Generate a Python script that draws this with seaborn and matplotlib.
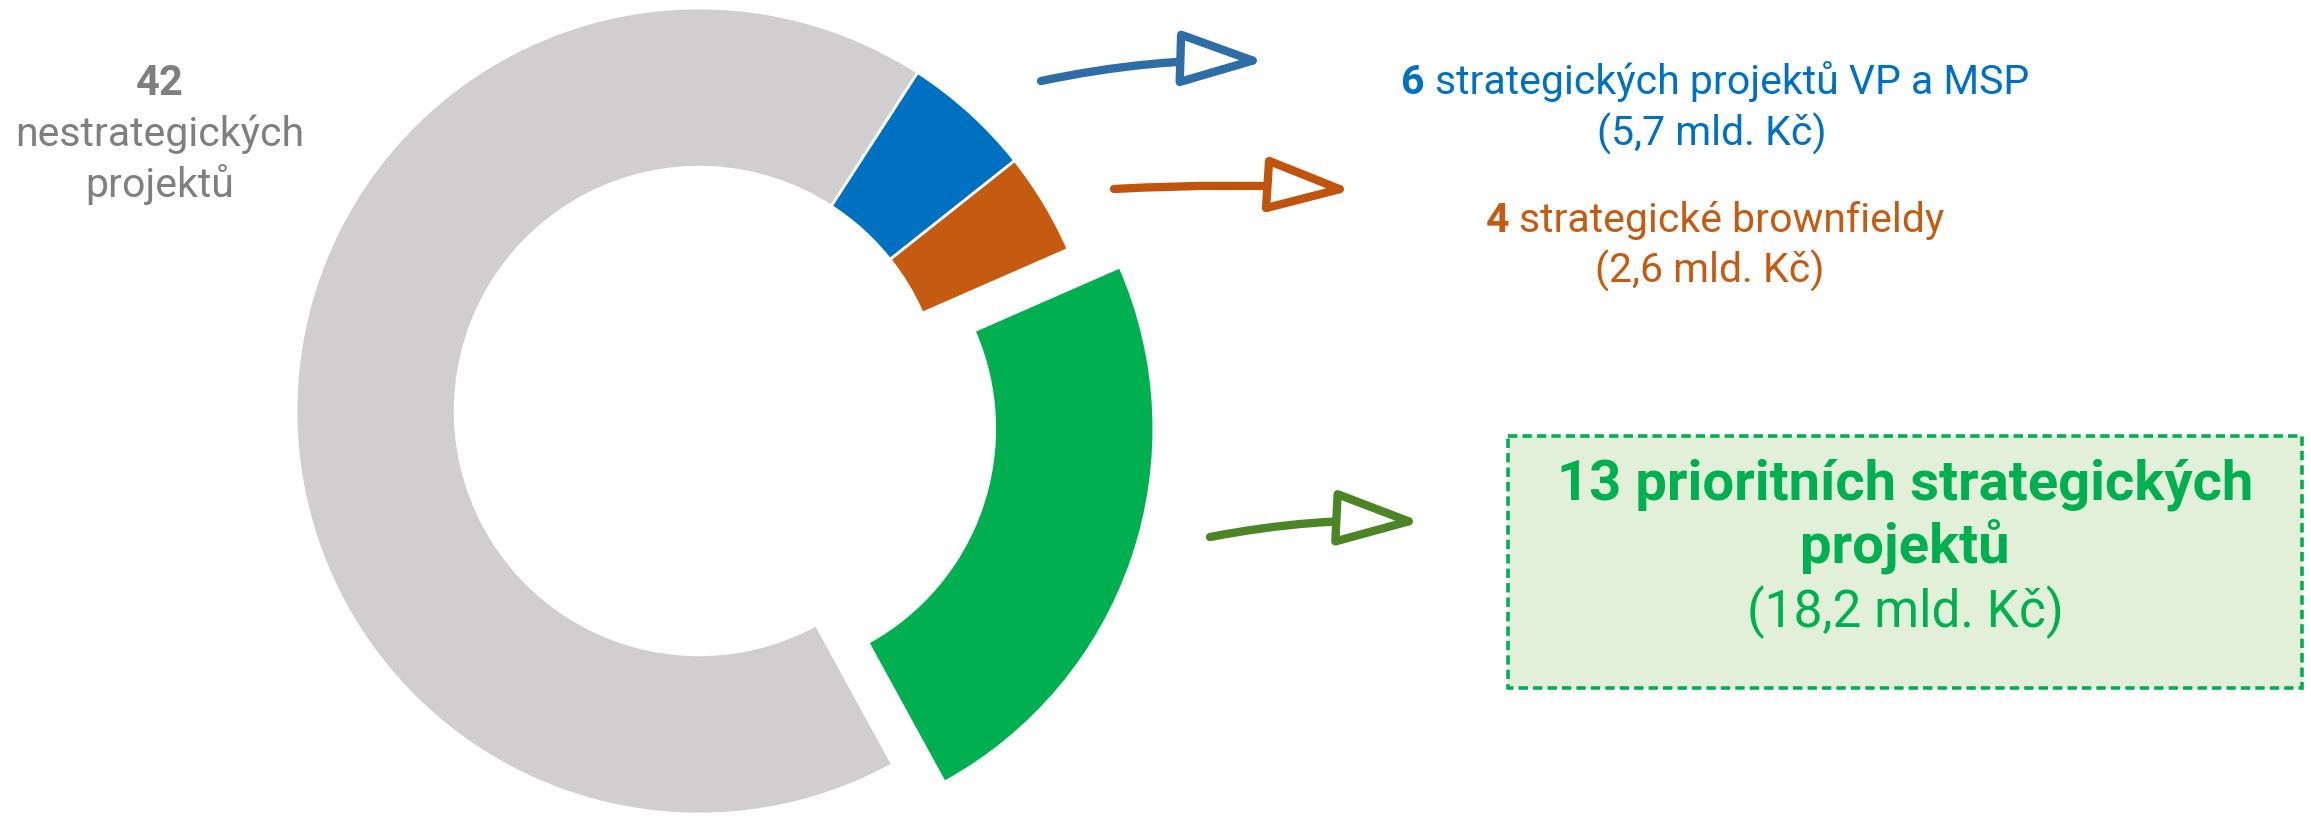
import matplotlib
matplotlib.use("Agg")
import matplotlib.pyplot as plt
import seaborn as sns
from matplotlib.patches import FancyArrowPatch, Rectangle

# values
categories = ["nestrategické", "strategické VP a MSP", "strategické brownfieldy", "prioritní strategické"]
project_counts = [42, 6, 4, 13]
costs_bn = ["", "5,7", "2,6", "18,2"]
ring_share = [67.1, 5.2, 4.1, 23.6]   # share of the ring
ring_colors = ["#D0CECE", "#0070C0", "#C55A11", "#00B050"]
arrow_colors = ["#2E6DA5", "#C1540C", "#4C8525"]

sns.set_theme(style="white")
plt.rcParams["font.family"] = ["Roboto", "DejaVu Sans"]

W, H = 2311, 817
fig = plt.figure(figsize=(W / 100, H / 100), dpi=100)

# donut
cx, cy, R = 699, 411, 403
side = 2.5 * R
ax = fig.add_axes([(cx - side / 2) / W, (H - cy - side / 2) / H, side / W, side / H])
ax.pie(ring_share, colors=ring_colors, startangle=-61.3, counterclock=False,
       explode=[0, 0, 0, 0.136], radius=1,
       wedgeprops=dict(width=0.395, edgecolor="white", linewidth=2))
ax.set_xlim(-1.25, 1.25)
ax.set_ylim(-1.25, 1.25)
ax.set_aspect("auto")
ax.axis("off")

# overlay in pixel units for labels, box and arrows
ov = fig.add_axes([0, 0, 1, 1])
ov.set_xlim(0, W)
ov.set_ylim(H, 0)
ov.axis("off")
ov.patch.set_visible(False)


def mixed_line(x, y, bold, rest, color, size):
    b = ov.text(0, y, bold, fontsize=size, fontweight="bold", color=color, va="baseline")
    r = ov.text(0, y, rest, fontsize=size, color=color, va="baseline")
    fig.canvas.draw()
    wb = b.get_window_extent().width
    wr = r.get_window_extent().width
    gap = size * 100 / 72 * 0.25
    start = x - (wb + gap + wr) / 2
    b.set_x(start)
    r.set_x(start + wb + gap)


gray_txt = "#7F7F7F"
ov.text(160, 95, str(project_counts[0]), ha="center", va="baseline",
        fontsize=30, fontweight="bold", color=gray_txt)
ov.text(160, 146, "nestrategických", ha="center", va="baseline", fontsize=29.5, color=gray_txt)
ov.text(160, 197, "projektů", ha="center", va="baseline", fontsize=29.5, color=gray_txt)

mixed_line(1715, 94, str(project_counts[1]), "strategických projektů VP a MSP", ring_colors[1], 29.5)
ov.text(1712, 146, f"({costs_bn[1]} mld. Kč)", ha="center", va="baseline", fontsize=29.5, color=ring_colors[1])

mixed_line(1715, 232, str(project_counts[2]), "strategické brownfieldy", ring_colors[2], 29.5)
ov.text(1710, 283, f"({costs_bn[2]} mld. Kč)", ha="center", va="baseline", fontsize=29.5, color=ring_colors[2])

box = Rectangle((1508, 436), 794, 252, facecolor="#E2F0D9", edgecolor="#00B050",
                linewidth=2.6, linestyle=(0, (2.6, 1.4)))
ov.add_patch(box)
ov.text(1905, 499, f"{project_counts[3]} prioritních strategických", ha="center", va="baseline",
        fontsize=40.5, fontweight="bold", color=ring_colors[3])
ov.text(1905, 563, "projektů", ha="center", va="baseline",
        fontsize=40.5, fontweight="bold", color=ring_colors[3])
ov.text(1905, 627, f"({costs_bn[3]} mld. Kč)", ha="center", va="baseline",
        fontsize=37, color=ring_colors[3])


def sketch_arrow(p0, p1, color, rad):
    a = FancyArrowPatch(p0, p1, arrowstyle="-|>,head_length=52,head_width=17",
                        connectionstyle=f"arc3,rad={rad}", mutation_scale=1,
                        facecolor="white", edgecolor=color, linewidth=6,
                        shrinkA=0, shrinkB=0, capstyle="round", joinstyle="round")
    ov.add_patch(a)


sketch_arrow((1041, 81), (1266, 61), arrow_colors[0], -0.06)
sketch_arrow((1114, 189), (1353, 190), arrow_colors[1], -0.03)
sketch_arrow((1210, 537), (1422, 522), arrow_colors[2], -0.06)

fig.savefig("out.png", dpi=100, facecolor="white")
